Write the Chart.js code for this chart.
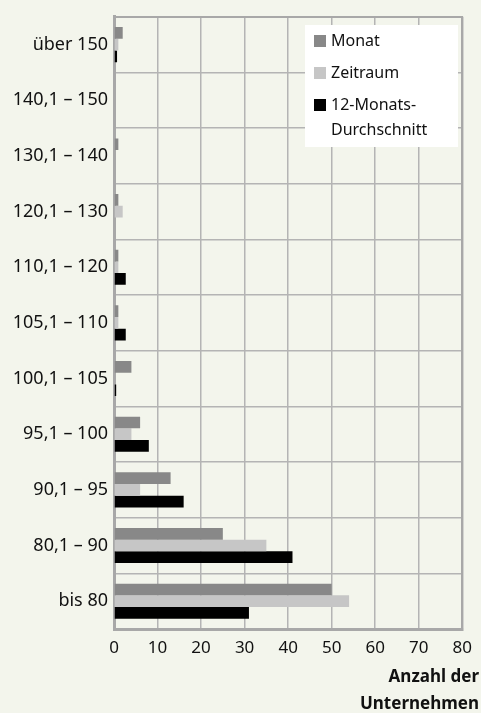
<!DOCTYPE html>
<html>
<head>
<meta charset="utf-8">
<script src="https://cdn.jsdelivr.net/npm/chart.js@4.4.0/dist/chart.umd.min.js"></script>
<style>
  html, body { margin: 0; padding: 0; background: #f3f5ec; }
  #wrap { width: 481px; height: 713px; position: relative; }
</style>
</head>
<body>
<div id="wrap"><canvas id="chart"></canvas></div>
<script>
const categories = ['über 150', '140,1 – 150', '130,1 – 140', '120,1 – 130', '110,1 – 120',
  '105,1 – 110', '100,1 – 105', '95,1 – 100', '90,1 – 95', '80,1 – 90', 'bis 80'];
const monat = [2, 0, 1, 1, 1, 1, 4, 6, 13, 25, 50];
const zeitraum = [1, 0, 0, 2, 1, 1, 0, 4, 6, 35, 54];
const durchschnitt = [0.7, 0, 0, 0, 2.7, 2.7, 0.5, 8, 16, 41, 31];
const xTicks = [0, 10, 20, 30, 40, 50, 60, 70, 80];
const axisTitle = ['Anzahl der', 'Unternehmen'];

const FONT = '"Noto Sans", sans-serif';
const TEXT = '#111111';

// legend box inside the plot, drawn from the datasets
const boxLegend = {
  id: 'boxLegend',
  afterDraw(chart) {
    const ctx = chart.ctx;
    ctx.save();
    ctx.fillStyle = '#ffffff';
    ctx.fillRect(305, 25, 153, 122);
    ctx.font = '16px ' + FONT;
    ctx.textBaseline = 'middle';
    ctx.textAlign = 'left';
    let y = 41;
    chart.data.datasets.forEach(ds => {
      ctx.fillStyle = ds.backgroundColor;
      ctx.fillRect(314, y - 6, 12, 12);
      ctx.fillStyle = TEXT;
      const lines = Array.isArray(ds.label) ? ds.label : [ds.label];
      lines.forEach((l, i) => ctx.fillText(l, 331, y + i * 25));
      y += 32;
    });
    // axis title, right aligned under the ticks
    ctx.font = 'bold 17px ' + FONT;
    ctx.textAlign = 'right';
    axisTitle.forEach((t, i) => ctx.fillText(t, 479, 677 + i * 27));
    ctx.restore();
  }
};

new Chart(document.getElementById('chart'), {
  type: 'bar',
  data: {
    labels: categories,
    datasets: [
      { label: 'Monat', data: monat, backgroundColor: '#888888' },
      { label: 'Zeitraum', data: zeitraum, backgroundColor: '#c6c6c6' },
      { label: ['12-Monats-', 'Durchschnitt'], data: durchschnitt, backgroundColor: '#000000' }
    ]
  },
  options: {
    indexAxis: 'y',
    responsive: true,
    maintainAspectRatio: false,
    animation: false,
    layout: { padding: { top: 12, right: 15, left: 0, bottom: 0 } },
    datasets: { bar: { categoryPercentage: 0.63, barPercentage: 1 } },
    plugins: { legend: { display: false }, tooltip: { enabled: false } },
    scales: {
      x: {
        min: 0, max: 80,
        afterBuildTicks: s => { s.ticks = xTicks.map(v => ({ value: v })); },
        afterFit: s => { s.height = 84; },
        grid: { color: '#b4b4b4', lineWidth: 1.5, drawTicks: false },
        border: { color: '#a8a8a8', width: 3 },
        ticks: { color: TEXT, font: { family: FONT, size: 17 }, padding: 9 }
      },
      y: {
        afterFit: s => { s.width = 114; },
        grid: { color: '#b4b4b4', lineWidth: 1.5, drawTicks: false },
        border: { color: '#a8a8a8', width: 3 },
        ticks: { color: TEXT, font: { family: FONT, size: 18 }, padding: 6 }
      },
      x2: {
        position: 'top', min: 0, max: 80,
        grid: { display: false },
        border: { color: '#a8a8a8', width: 2 },
        ticks: { display: false },
        afterFit: s => { s.height = 0; }
      },
      y2: {
        position: 'right', type: 'linear',
        grid: { display: false },
        border: { color: '#a8a8a8', width: 2 },
        ticks: { display: false },
        afterFit: s => { s.width = 0; }
      }
    }
  },
  plugins: [boxLegend]
});
</script>
</body>
</html>
